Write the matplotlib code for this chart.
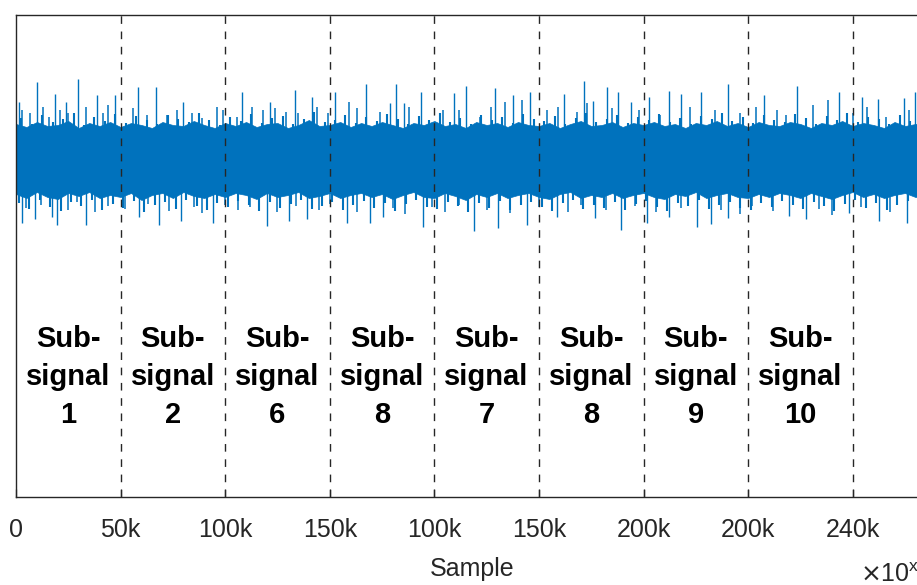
import numpy as np
import matplotlib
matplotlib.use("Agg")
from matplotlib import pyplot as plt

plt.rcParams['font.family'] = ['Liberation Sans', 'DejaVu Sans']

# tick positions (samples) and the labels as printed on the figure
tick_pos = [0, 50000, 100000, 150000, 200000, 250000, 300000, 350000, 400000]
tick_labels = ['0', '50k', '100k', '150k', '100k', '150k', '200k', '200k', '240k']
seg_ids = ['1', '2', '6', '8', '7', '8', '9', '10']

# solid body of the signal, envelope every 5k samples
body_top = [0.36, 0.33, 0.38, 0.34, 0.35, 0.39, 0.32, 0.37, 0.34, 0.38,
            0.33, 0.37, 0.35, 0.32, 0.38, 0.35, 0.34, 0.39, 0.35, 0.32,
            0.37, 0.34, 0.38, 0.33, 0.36, 0.37, 0.32, 0.35, 0.40, 0.34,
            0.35, 0.38, 0.33, 0.37, 0.34, 0.38, 0.35, 0.32, 0.37, 0.35,
            0.39, 0.34, 0.36, 0.32, 0.38, 0.35, 0.37, 0.33, 0.38, 0.35,
            0.34, 0.37, 0.32, 0.36, 0.39, 0.34, 0.35, 0.38, 0.33, 0.37,
            0.35, 0.38, 0.34, 0.36, 0.32, 0.37, 0.35, 0.39, 0.34, 0.37,
            0.33, 0.38, 0.35, 0.34, 0.38, 0.36, 0.32, 0.37, 0.35, 0.39,
            0.34, 0.37, 0.35, 0.32, 0.38, 0.34, 0.36, 0.37]
body_bot = [-0.34, -0.38, -0.32, -0.37, -0.39, -0.33, -0.36, -0.32, -0.38, -0.35,
            -0.37, -0.33, -0.40, -0.35, -0.33, -0.38, -0.32, -0.36, -0.38, -0.34,
            -0.37, -0.33, -0.35, -0.39, -0.33, -0.37, -0.35, -0.32, -0.38, -0.36,
            -0.33, -0.38, -0.35, -0.33, -0.37, -0.34, -0.39, -0.35, -0.32, -0.37,
            -0.38, -0.33, -0.36, -0.40, -0.34, -0.37, -0.33, -0.38, -0.35, -0.33,
            -0.37, -0.39, -0.34, -0.32, -0.38, -0.35, -0.37, -0.33, -0.38, -0.35,
            -0.33, -0.37, -0.39, -0.34, -0.36, -0.32, -0.38, -0.35, -0.33, -0.37,
            -0.38, -0.34, -0.37, -0.33, -0.35, -0.38, -0.33, -0.36, -0.39, -0.35,
            -0.32, -0.37, -0.34, -0.38, -0.35, -0.33, -0.37, -0.35]

# ragged edge peaks, one per 5k samples (between body points)
edge_top = [0.42, 0.36, 0.45, 0.38, 0.41, 0.47, 0.35, 0.43, 0.39, 0.46,
            0.37, 0.44, 0.40, 0.36, 0.45, 0.41, 0.38, 0.47, 0.40, 0.35,
            0.43, 0.39, 0.46, 0.37, 0.42, 0.44, 0.36, 0.41, 0.48, 0.38,
            0.40, 0.45, 0.37, 0.43, 0.39, 0.46, 0.41, 0.36, 0.44, 0.40,
            0.47, 0.38, 0.42, 0.36, 0.45, 0.40, 0.43, 0.37, 0.46, 0.41,
            0.39, 0.44, 0.36, 0.42, 0.47, 0.38, 0.41, 0.45, 0.37, 0.43,
            0.40, 0.46, 0.38, 0.42, 0.36, 0.44, 0.41, 0.47, 0.39, 0.43,
            0.37, 0.45, 0.40, 0.38, 0.46, 0.42, 0.36, 0.44, 0.40, 0.47,
            0.38, 0.43, 0.41, 0.36, 0.45, 0.39, 0.42, 0.44]
edge_bot = [-0.43, -0.49, -0.40, -0.47, -0.51, -0.42, -0.46, -0.40, -0.50, -0.44,
            -0.48, -0.41, -0.52, -0.45, -0.42, -0.49, -0.40, -0.46, -0.50, -0.43,
            -0.47, -0.41, -0.45, -0.51, -0.42, -0.48, -0.44, -0.40, -0.49, -0.46,
            -0.42, -0.50, -0.45, -0.41, -0.48, -0.43, -0.51, -0.44, -0.40, -0.47,
            -0.49, -0.42, -0.46, -0.52, -0.43, -0.48, -0.41, -0.50, -0.45, -0.42,
            -0.47, -0.51, -0.43, -0.40, -0.49, -0.45, -0.48, -0.42, -0.50, -0.44,
            -0.41, -0.47, -0.51, -0.43, -0.46, -0.40, -0.49, -0.45, -0.42, -0.48,
            -0.50, -0.43, -0.47, -0.41, -0.45, -0.49, -0.42, -0.46, -0.51, -0.44,
            -0.40, -0.48, -0.43, -0.50, -0.45, -0.41, -0.47, -0.44]

# large spikes (k samples, amplitude)
up_x = [1.4, 10.0, 18.6, 23.9, 29.6, 38.7, 47.3, 58.3, 66.9, 79.8, 108.0, 121.4, 133.4,
        141.5, 152.5, 167.3, 178.8, 181.6, 185.5, 193.6, 209.4, 215.1, 229.0, 237.6, 245.7,
        261.9, 271.5, 275.8, 282.5, 287.8, 294.0, 302.6, 312.1, 317.9, 327.4, 340.3, 357.5,
        373.3, 393.4, 404.4, 412.0, 424.5, 429.7]
up_v = [0.58, 0.78, 0.66, 0.58, 0.81, 0.65, 0.65, 0.73, 0.73, 0.58, 0.68, 0.58, 0.70,
        0.63, 0.68, 0.76, 0.57, 0.76, 0.57, 0.68, 0.67, 0.74, 0.72, 0.65, 0.68,
        0.66, 0.79, 0.59, 0.73, 0.68, 0.58, 0.63, 0.69, 0.66, 0.68, 0.76, 0.65,
        0.74, 0.68, 0.63, 0.61, 0.62, 0.68]
dn_x = [2.9, 9.1, 17.2, 19.6, 33.5, 58.8, 68.4, 78.9, 94.2, 120.0, 130.5,
        139.1, 158.2, 169.2, 175.4, 194.5, 218.9, 230.4, 244.3, 258.6, 276.8,
        289.2, 301.6, 312.1, 325.5, 332.2, 340.3, 369.5, 377.6, 398.2, 412.5, 425.9]
dn_v = [-0.63, -0.59, -0.57, -0.65, -0.65, -0.57, -0.65, -0.61, -0.63, -0.66, -0.61,
        -0.59, -0.63, -0.63, -0.57, -0.67, -0.71, -0.68, -0.65, -0.57, -0.58,
        -0.70, -0.63, -0.57, -0.67, -0.64, -0.58, -0.56, -0.59, -0.53, -0.61, -0.63]

# medium spikes
mup_x = [2.7, 6.7, 13, 16, 21, 25, 33.5, 41.6, 44, 56, 62.6, 72, 77, 84, 89, 96, 99, 105.6,
         113, 118, 124, 129, 135, 144, 149, 159, 163, 174, 188, 204, 212, 222, 227, 234, 242,
         254, 259, 268, 273, 285, 298, 308, 322, 334, 346, 354, 364, 368, 381, 388, 400, 407,
         416, 427]
mup_v = [0.50, 0.47, 0.53, 0.43, 0.50, 0.47, 0.53, 0.47, 0.55, 0.52, 0.45, 0.45, 0.50, 0.47,
         0.42, 0.53, 0.50, 0.43, 0.53, 0.50, 0.52, 0.48, 0.47, 0.53, 0.47, 0.58, 0.52, 0.48,
         0.53, 0.50, 0.50, 0.43, 0.53, 0.58, 0.60, 0.50, 0.53, 0.48, 0.57, 0.52, 0.50, 0.45,
         0.53, 0.50, 0.47, 0.53, 0.50, 0.45, 0.55, 0.60, 0.47, 0.53, 0.43, 0.50]
mdn_x = [5, 12, 25, 29, 38, 44, 52, 63, 73, 85, 89, 100, 106, 112, 125, 134, 145, 150, 163,
         180, 186, 199, 205, 212, 225, 236, 250, 264, 270, 282, 296, 306, 318, 337, 346, 352,
         362, 384, 390, 404, 418, 431]
mdn_v = [-0.48, -0.45, -0.50, -0.42, -0.52, -0.46, -0.49, -0.44, -0.51, -0.47, -0.53, -0.45,
         -0.50, -0.47, -0.52, -0.46, -0.50, -0.44, -0.52, -0.48, -0.54, -0.47, -0.52, -0.45,
         -0.50, -0.53, -0.47, -0.52, -0.45, -0.50, -0.46, -0.52, -0.48, -0.50, -0.54, -0.46,
         -0.51, -0.49, -0.55, -0.47, -0.52, -0.50]

blue = '#0072BD'
dark = '#262626'

fig = plt.figure(figsize=(9.17, 5.85), dpi=100)
ax = fig.add_axes([16/917, 88/585, 912/917, 482/585])

bx = np.arange(len(body_top)) * 5000
ax.fill_between(bx, body_bot, body_top, color=blue, lw=0.5)
ex = bx + 2500
ax.vlines(ex, 0, edge_top, color=blue, lw=1.5)
ax.vlines(ex - 1200, edge_bot, 0, color=blue, lw=1.5)
ax.vlines(np.array(mup_x) * 1000, 0, mup_v, color=blue, lw=1.1)
ax.vlines(np.array(mdn_x) * 1000, mdn_v, 0, color=blue, lw=1.1)
ax.vlines(np.array(up_x) * 1000, 0, up_v, color=blue, lw=1.0)
ax.vlines(np.array(dn_x) * 1000, dn_v, 0, color=blue, lw=1.0)

# segment boundaries
for p in tick_pos[1:]:
    ax.axvline(p, color=dark, lw=1.0, dashes=(5.5, 5.5))

# segment labels
for i, s in enumerate(seg_ids):
    ax.text(tick_pos[i] + 25000, -2.17, 'Sub-\nsignal\n' + s, ha='center', va='center',
            fontsize=21, fontweight='bold', linespacing=1.45, color='black')

ax.set_xlim(0, 436000)
ax.set_ylim(-3.37, 1.45)
ax.set_xticks(tick_pos)
ax.set_xticklabels(tick_labels)
ax.set_yticks([])
ax.tick_params(axis='x', direction='in', length=5.5, width=0.9, colors=dark,
               labelsize=18, pad=15, top=False)
for sp in ax.spines.values():
    sp.set_color(dark)
    sp.set_linewidth(1.0)
ax.set_xlabel('Sample', fontsize=18, color=dark, labelpad=11)

fig.text(860/917, 1 - 582/585, r'$\times$10$^{\mathregular{x}}$', fontsize=18, color=dark,
         va='baseline', ha='left')

fig.savefig('out.png', dpi=100)
